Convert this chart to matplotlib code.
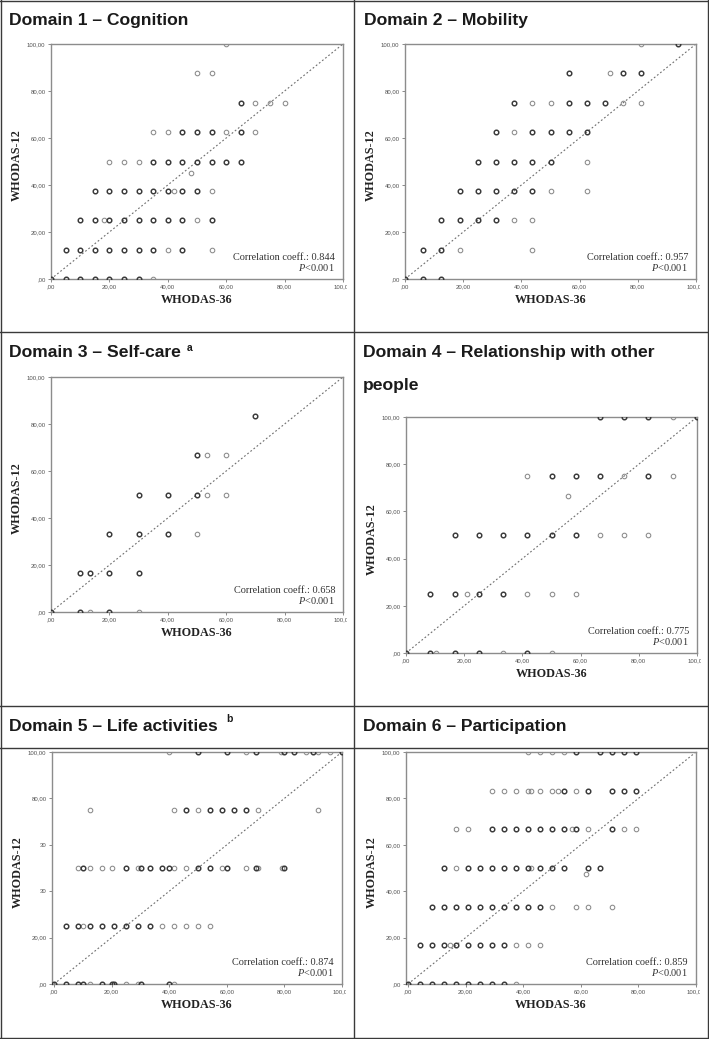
import matplotlib
matplotlib.use("Agg")
import matplotlib.pyplot as plt
from matplotlib.lines import Line2D
from matplotlib.transforms import Bbox, TransformedBbox

W, H = 709, 1039

# ---- data (WHODAS-36 score, WHODAS-12 score, 2 = overlapping / dark circle) ----
d1_x = [60,
        50, 55,
        65, 70, 75, 80,
        35, 40, 45, 50, 55, 60, 65, 70,
        20, 25, 30, 35, 40, 45, 50, 55, 60, 65,
        48,
        15, 20, 25, 30, 35, 40, 42, 45, 50, 55,
        10, 15, 18, 20, 25, 30, 35, 40, 45, 50, 55,
        5, 10, 15, 20, 25, 30, 35, 40, 45, 55,
        0, 5, 10, 15, 20, 25, 30, 35]
d1_y = [100,
        87.5, 87.5,
        75, 75, 75, 75,
        62.5, 62.5, 62.5, 62.5, 62.5, 62.5, 62.5, 62.5,
        50, 50, 50, 50, 50, 50, 50, 50, 50, 50,
        45,
        37.5, 37.5, 37.5, 37.5, 37.5, 37.5, 37.5, 37.5, 37.5, 37.5,
        25, 25, 25, 25, 25, 25, 25, 25, 25, 25, 25,
        12.5, 12.5, 12.5, 12.5, 12.5, 12.5, 12.5, 12.5, 12.5, 12.5,
        0, 0, 0, 0, 0, 0, 0, 0]
d1_n = [1,
        1, 1,
        2, 1, 1, 1,
        1, 1, 2, 2, 2, 1, 2, 1,
        1, 1, 1, 2, 2, 2, 2, 2, 2, 2,
        1,
        2, 2, 2, 2, 2, 2, 1, 2, 2, 1,
        2, 2, 1, 2, 2, 2, 2, 2, 2, 1, 2,
        2, 2, 2, 2, 2, 2, 2, 1, 2, 1,
        2, 2, 2, 2, 2, 2, 2, 1]

d2_x = [81.25, 93.75,
        56.25, 70.6, 75, 81.25,
        37.5, 43.75, 50, 56.25, 62.5, 68.75, 75, 81.25,
        31.25, 37.5, 43.75, 50, 56.25, 62.5,
        25, 31.25, 37.5, 43.75, 50, 62.5,
        18.75, 25, 31.25, 37.5, 43.75, 50, 62.5,
        12.5, 18.75, 25, 31.25, 37.5, 43.75,
        6.25, 12.5, 18.75, 43.75,
        0, 6.25, 12.5]
d2_y = [100, 100,
        87.5, 87.5, 87.5, 87.5,
        75, 75, 75, 75, 75, 75, 75, 75,
        62.5, 62.5, 62.5, 62.5, 62.5, 62.5,
        50, 50, 50, 50, 50, 50,
        37.5, 37.5, 37.5, 37.5, 37.5, 37.5, 37.5,
        25, 25, 25, 25, 25, 25,
        12.5, 12.5, 12.5, 12.5,
        0, 0, 0]
d2_n = [1, 2,
        2, 1, 2, 2,
        2, 1, 1, 2, 2, 2, 1, 1,
        2, 1, 2, 2, 2, 2,
        2, 2, 2, 2, 2, 1,
        2, 2, 2, 2, 2, 1, 1,
        2, 2, 2, 2, 1, 1,
        2, 2, 1, 1,
        2, 2, 2]

d3_x = [70,
        50, 53.3, 60,
        30, 40, 50, 53.3, 60,
        20, 30, 40, 50,
        10, 13.3, 20, 30,
        0, 10, 13.3, 20, 30]
d3_y = [83.33,
        66.67, 66.67, 66.67,
        50, 50, 50, 50, 50,
        33.33, 33.33, 33.33, 33.33,
        16.67, 16.67, 16.67, 16.67,
        0, 0, 0, 0, 0]
d3_n = [2,
        2, 1, 1,
        2, 2, 2, 1, 1,
        2, 2, 2, 1,
        2, 2, 2, 2,
        2, 2, 1, 2, 1]

d4_x = [66.67, 75, 83.33, 91.67, 100,
        41.67, 50, 58.33, 66.67, 75, 83.33, 91.67,
        55.56,
        16.67, 25, 33.33, 41.67, 50, 58.33, 66.67, 75, 83.33,
        8.33, 16.67, 20.83, 25, 33.33, 41.67, 50, 58.33,
        0, 8.33, 10.2, 16.67, 25, 33.33, 41.67, 50]
d4_y = [100, 100, 100, 100, 100,
        75, 75, 75, 75, 75, 75, 75,
        66.67,
        50, 50, 50, 50, 50, 50, 50, 50, 50,
        25, 25, 25, 25, 25, 25, 25, 25,
        0, 0, 0, 0, 0, 0, 0, 0]
d4_n = [2, 2, 2, 1, 2,
        1, 2, 2, 2, 1, 2, 1,
        1,
        2, 2, 2, 2, 2, 2, 1, 1, 1,
        2, 2, 1, 2, 2, 1, 1, 1,
        2, 2, 1, 2, 2, 1, 2, 1]

d5_x = [40, 50, 60, 66.7, 70, 78.8, 80, 83.3, 87.4, 89.9, 91.6, 95.8, 100,
        12.5, 41.6, 45.8, 50, 54.2, 58.3, 62.4, 66.6, 70.8, 91.6,
        8.5, 10.2, 12.6, 16.7, 20.1, 25.1, 29.2, 30.2, 33.4, 37.4, 40, 41.6,
        45.8, 50, 54.2, 58.3, 60.1, 66.6, 70, 70.8, 79.1, 80,
        4.3, 8.5, 10, 12.6, 16.7, 20.9, 25.1, 29.2, 33.4, 37.4, 41.6, 45.8, 50, 54.2,
        0, 4.3, 8.5, 10.2, 12.6, 16.7, 20.1, 20.9, 25.1, 29.2, 30.2, 40, 41.6]
d5_y = [100] * 13 + [75] * 10 + [50] * 22 + [25] * 14 + [0] * 13
d5_n = [1, 2, 2, 1, 2, 1, 2, 2, 1, 2, 1, 1, 2,
        1, 1, 2, 1, 2, 2, 2, 2, 1, 1,
        1, 2, 1, 1, 1, 2, 1, 2, 2, 2, 2, 1,
        1, 2, 2, 1, 2, 1, 2, 1, 1, 2,
        2, 2, 1, 2, 2, 2, 2, 2, 2, 1, 1, 1, 1, 1,
        2, 2, 2, 2, 1, 2, 2, 2, 1, 1, 2, 2, 1]

d6_x = [41.6, 45.7, 50, 54.1, 58.3, 66.6, 70.8, 75, 79.1,
        29.1, 33.3, 37.5, 41.6, 42.8, 45.7, 50, 52.2, 54.1, 58.3, 62.4, 70.8, 75, 79.1,
        16.7, 20.8, 29.1, 33.3, 37.5, 41.6, 45.7, 50, 54.1, 56.8, 58.3, 62.4, 70.8, 75, 79.1,
        12.5, 16.7, 20.8, 25, 29.1, 33.3, 37.5, 41.6, 42.8, 45.7, 50, 54.1, 62.4, 66.6,
        61.7,
        8.3, 12.5, 16.7, 20.8, 25, 29.1, 33.3, 37.5, 41.6, 45.7, 50, 58.3, 62.4, 70.8,
        4.2, 8.3, 12.5, 14.5, 16.7, 20.8, 25, 29.1, 33.3, 37.5, 41.6, 45.7,
        0, 4.2, 8.3, 12.5, 16.7, 20.8, 25, 29.1, 33.3, 37.5]
d6_y = ([100] * 9 + [83.33] * 14 + [66.67] * 15 + [50] * 14 + [47.6]
        + [33.33] * 14 + [16.67] * 12 + [0] * 10)
d6_n = [1, 1, 1, 1, 2, 2, 2, 2, 2,
        1, 1, 1, 1, 1, 1, 1, 1, 2, 1, 2, 2, 2, 2,
        1, 1, 2, 2, 2, 2, 2, 2, 2, 1, 2, 1, 2, 1, 1,
        2, 1, 2, 2, 2, 2, 2, 2, 1, 2, 2, 2, 2, 2,
        1,
        2, 2, 2, 2, 2, 2, 2, 2, 2, 2, 1, 1, 1, 1,
        2, 2, 2, 1, 2, 2, 2, 2, 2, 1, 1, 1,
        2, 2, 2, 2, 2, 2, 2, 2, 2, 1]

corr = ["0.844", "0.957", "0.658", "0.775", "0.874", "0.859"]
x_ticklabels = [",00", "20,00", "40,00", "60,00", "80,00", "100,00"]
y_ticklabels = [",00", "20,00", "40,00", "60,00", "80,00", "100,00"]
y_ticklabels_d5 = [",00", "20,00", "30", "30", "80,00", "100,00"]

plt.rcParams["mathtext.fontset"] = "custom"
plt.rcParams["mathtext.rm"] = "Liberation Serif"
plt.rcParams["mathtext.it"] = "Liberation Serif:italic"

fig = plt.figure(figsize=(W / 100, H / 100), dpi=100)
fig.patch.set_facecolor("white")


def fx(x):
    return x / W


def fy(y):
    return 1 - y / H


def hline(y, x0=0, x1=W):
    fig.add_artist(Line2D([fx(x0), fx(x1)], [fy(y), fy(y)], transform=fig.transFigure,
                          color="#3a3a3a", lw=1.0))


def vline(x, y0=0, y1=H):
    fig.add_artist(Line2D([fx(x), fx(x)], [fy(y0), fy(y1)], transform=fig.transFigure,
                          color="#3a3a3a", lw=1.0))


# table borders
hline(0.5)
hline(H - 0.8)
vline(0.5)
vline(W - 1)
vline(354)
hline(332)
hline(706)
hline(748)


def title(x, y, s):
    fig.text(fx(x), fy(y), s, ha="left", va="baseline", fontsize=12.6,
             fontweight="bold", family="Liberation Sans", color="#1a1a1a")


def sup(x, y, s):
    fig.text(fx(x), fy(y), s, ha="left", va="baseline", fontsize=7.5,
             fontweight="bold", family="Liberation Sans", color="#1a1a1a")


title(9, 25, "Domain 1 \u2013 Cognition")
title(364, 25, "Domain 2 \u2013 Mobility")
title(9, 357, "Domain 3 \u2013 Self-care")
sup(187, 351, "a")
title(363, 357, "Domain 4 \u2013 Relationship with other")
title(363, 390, "people")
title(9, 731, "Domain 5 \u2013 Life activities")
sup(226, 722, "b")
title(363, 731, "Domain 6 \u2013 Participation")

panels = [
    (d1_x, d1_y, d1_n, (51, 44, 343, 279), 0),
    (d2_x, d2_y, d2_n, (405, 44, 696, 279), 0),
    (d3_x, d3_y, d3_n, (51, 377, 343, 612), 0),
    (d4_x, d4_y, d4_n, (406, 417, 697, 653), 0),
    (d5_x, d5_y, d5_n, (52, 752, 342, 984), 0.7),
    (d6_x, d6_y, d6_n, (406, 752, 696, 984), 0.7),
]

for i, (xs, ys, ns, (l, t, r, b), pad) in enumerate(panels):
    ax = fig.add_axes([fx(l), fy(b), fx(r - l), (b - t) / H])
    ax.set_xlim(-pad, 100)
    ax.set_ylim(0, 100)
    ax.plot([0, 100], [0, 100], color="#6e6e6e", lw=0.8, dashes=(1.6, 2.0), zorder=1)

    light = [(x, y) for x, y, n in zip(xs, ys, ns) if n == 1]
    dark = [(x, y) for x, y, n in zip(xs, ys, ns) if n > 1]
    if light:
        ax.plot([p[0] for p in light], [p[1] for p in light], "o", ms=3.3, mfc="none",
                mec="#8a8a8a", mew=0.75, zorder=2)
    if dark:
        ax.plot([p[0] for p in dark], [p[1] for p in dark], "o", ms=3.3, mfc="none",
                mec="#383838", mew=1.05, zorder=3)

    for sp in ax.spines.values():
        sp.set_color("#8c8c8c")
        sp.set_linewidth(1.0)

    ax.set_xticks([0, 20, 40, 60, 80, 100])
    ax.set_yticks([0, 20, 40, 60, 80, 100])
    ax.set_xticklabels(x_ticklabels)
    ax.set_yticklabels(y_ticklabels_d5 if i == 4 else y_ticklabels)
    ax.tick_params(length=2.5, width=0.6, color="#777777", labelsize=4.3,
                   labelcolor="#505050", pad=1.5)
    for lab in ax.get_xticklabels() + ax.get_yticklabels():
        lab.set_family("Liberation Sans")

    # SPSS export crops the last x tick label
    last = ax.xaxis.get_major_ticks()[-1].label1
    last.set_clip_on(True)
    last.set_clip_box(TransformedBbox(Bbox([[0, 0], [fx(r + 4), 1]]), fig.transFigure))

    ax.annotate("Correlation coeff.: " + corr[i], xy=(1, 0), xycoords="axes fraction",
                xytext=(-8, 19), textcoords="offset pixels", ha="right", va="baseline",
                fontsize=7.4, family="Liberation Serif", color="#333333")
    ax.annotate("$P$<0.001", xy=(1, 0), xycoords="axes fraction",
                xytext=(-8, 8), textcoords="offset pixels", ha="right", va="baseline",
                fontsize=7.4, family="Liberation Serif", color="#333333")

    fig.text(fx((l + r) / 2), fy(b + 24), "WHODAS-36", ha="center", va="baseline",
             fontsize=8.7, fontweight="bold", family="Liberation Serif", color="#222222")
    fig.text(fx(l - 34), fy((t + b) / 2 + 4), "WHODAS-12", ha="center", va="center",
             rotation=90, fontsize=8.7, fontweight="bold", family="Liberation Serif",
             color="#222222")

fig.savefig("out.png", dpi=100)
